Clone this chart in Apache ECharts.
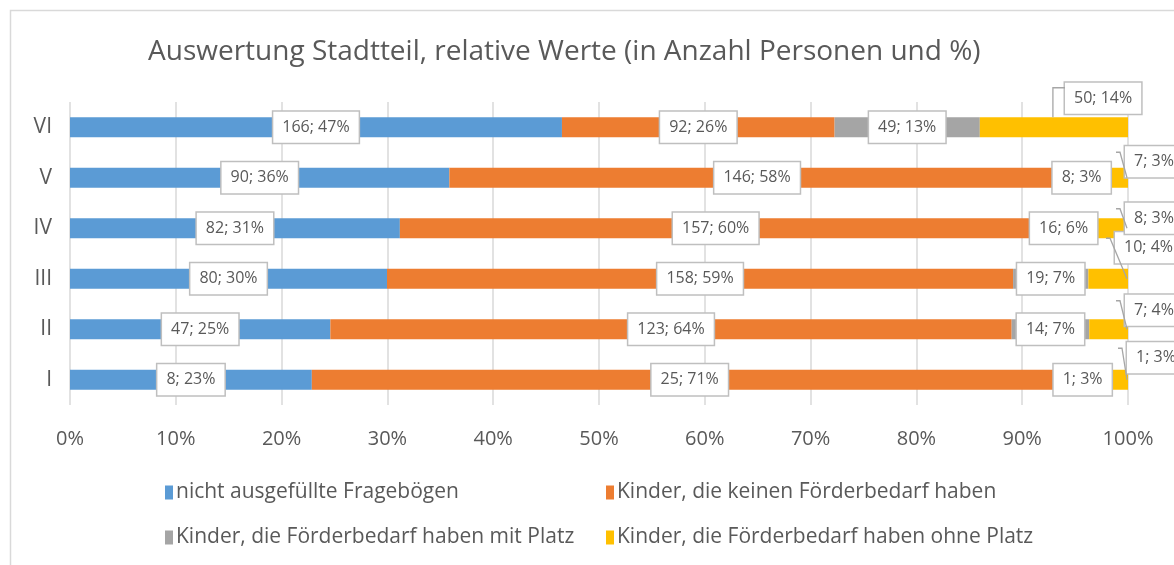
<!DOCTYPE html>
<html>
<head>
<meta charset="utf-8">
<script src="https://cdn.jsdelivr.net/npm/echarts@6/dist/echarts.min.js"></script>
<style>
  html, body { margin: 0; padding: 0; background: #fff; }
  #chart { width: 1174px; height: 565px; }
</style>
</head>
<body>
<div id="chart"></div>
<script>
const categories = ["I", "II", "III", "IV", "V", "VI"];
const seriesNames = [
  "nicht ausgefüllte Fragebögen",
  "Kinder, die keinen Förderbedarf haben",
  "Kinder, die Förderbedarf haben mit Platz",
  "Kinder, die Förderbedarf haben ohne Platz",
];
// Anzahl Personen
const countsBlue = [8, 47, 80, 82, 90, 166];
const countsOrange = [25, 123, 158, 157, 146, 92];
const countsGray = [1, 14, 19, 16, 8, 49];
const countsYellow = [1, 7, 10, 8, 7, 50];
// Prozent (wie im Label angezeigt)
const pctBlue = [23, 25, 30, 31, 36, 47];
const pctOrange = [71, 64, 59, 60, 58, 26];
const pctGray = [3, 7, 7, 6, 3, 13];
const pctYellow = [3, 4, 4, 3, 3, 14];

const xTicks = [0, 10, 20, 30, 40, 50, 60, 70, 80, 90, 100];

const COLORS = ["#5b9bd5", "#ed7d31", "#a5a5a5", "#ffc000"];
const TEXT = "#595959";
const FONT = "'Open Sans', sans-serif";
const BOX_H = 31;

const counts = [countsBlue, countsOrange, countsGray, countsYellow];
const pcts = [pctBlue, pctOrange, pctGray, pctYellow];
const totals = categories.map((_, i) =>
  counts.reduce((s, arr) => s + arr[i], 0)
);
const shares = counts.map((arr) => arr.map((v, i) => (v / totals[i]) * 100));

// callouts of the yellow labels (I..VI): left edge relative to bar end, centre y relative to bar
const calloutLeft = [-1, -3, -13, -3, -3, -63];
const calloutDy = [-22, -19, -31, -10, -16, -29];

const labelBox = {
  show: true,
  position: "inside",
  color: TEXT,
  fontFamily: FONT,
  fontSize: 16,
  lineHeight: 19,
  backgroundColor: "#fff",
  borderColor: "#bfbfbf",
  borderWidth: 1.5,
  padding: [6, 9, 6, 9],
};

const series = counts.map((arr, s) => ({
  name: seriesNames[s],
  type: "bar",
  stack: "total",
  barWidth: 20,
  itemStyle: { color: COLORS[s] },
  data: shares[s],
  label: {
    ...labelBox,
    formatter: (p) => arr[p.dataIndex] + "; " + pcts[s][p.dataIndex] + "%",
  },
  labelLayout:
    s === 3
      ? (p) => ({
          x: p.rect.x + p.rect.width + calloutLeft[p.dataIndex],
          y: p.rect.y + p.rect.height / 2 + calloutDy[p.dataIndex],
          align: "left",
          verticalAlign: "middle",
        })
      : undefined,
}));

const legendPos = [
  [160, 477],
  [601, 477],
  [160, 522],
  [601, 522],
];

const chart = echarts.init(document.getElementById("chart"));
chart.setOption({
  animation: false,
  title: {
    text: "Auswertung Stadtteil, relative Werte (in Anzahl Personen und %)",
    left: 143,
    top: 33,
    textStyle: {
      fontFamily: FONT,
      fontSize: 28,
      fontWeight: "normal",
      color: TEXT,
    },
  },
  legend: seriesNames.map((n, i) => ({
    data: [n],
    left: legendPos[i][0],
    top: legendPos[i][1],
    itemWidth: 8,
    itemHeight: 14,
    itemGap: 0,
    icon: "rect",
    selectedMode: false,
    textStyle: { fontFamily: FONT, fontSize: 21, color: TEXT, padding: [0, 0, 0, -2] },
  })),
  grid: { left: 70, right: 46, top: 102, bottom: 160 },
  xAxis: {
    type: "value",
    min: 0,
    max: 100,
    interval: 10,
    axisLine: { show: false },
    axisTick: { show: false },
    splitLine: { lineStyle: { color: "#d9d9d9", width: 1.5 } },
    axisLabel: {
      formatter: (v) => (xTicks.includes(v) ? v + "%" : ""),
      fontFamily: FONT,
      fontSize: 20,
      color: TEXT,
      margin: 24,
    },
  },
  yAxis: {
    type: "category",
    data: categories,
    axisLine: { show: false },
    axisTick: { show: false },
    axisLabel: {
      fontFamily: FONT,
      fontSize: 21,
      color: TEXT,
      margin: 18,
    },
  },
  series: series,
});

// leader lines of the callouts, from the bars' pixel positions
const graphics = [
  {
    type: "rect",
    shape: { x: 10.5, y: 10.5, width: 1300, height: 700 },
    style: { fill: "none", stroke: "#d9d9d9", lineWidth: 1.5 },
    silent: true,
  },
];
categories.forEach((c, i) => {
  const end = chart.convertToPixel({ gridIndex: 0 }, [100, i]);
  const mid = chart.convertToPixel({ gridIndex: 0 }, [100 - shares[3][i] / 2, i]);
  const left = end[0] + calloutLeft[i];
  const top = end[1] + calloutDy[i] - BOX_H / 2;
  let pts;
  if (c === "VI") {
    pts = [[left, top + 5], [mid[0] - 1, top + 5], [mid[0] - 1, end[1] - 10]];
  } else {
    pts = [[left - 9, top + 6], [left - 5, top + 6], [end[0] - 1, end[1]]];
  }
  graphics.push({
    type: "polyline",
    shape: { points: pts },
    style: { stroke: "#a6a6a6", lineWidth: 1.3, fill: "none" },
    z: 10,
    silent: true,
  });
});
chart.setOption({ graphic: graphics });
</script>
</body>
</html>
